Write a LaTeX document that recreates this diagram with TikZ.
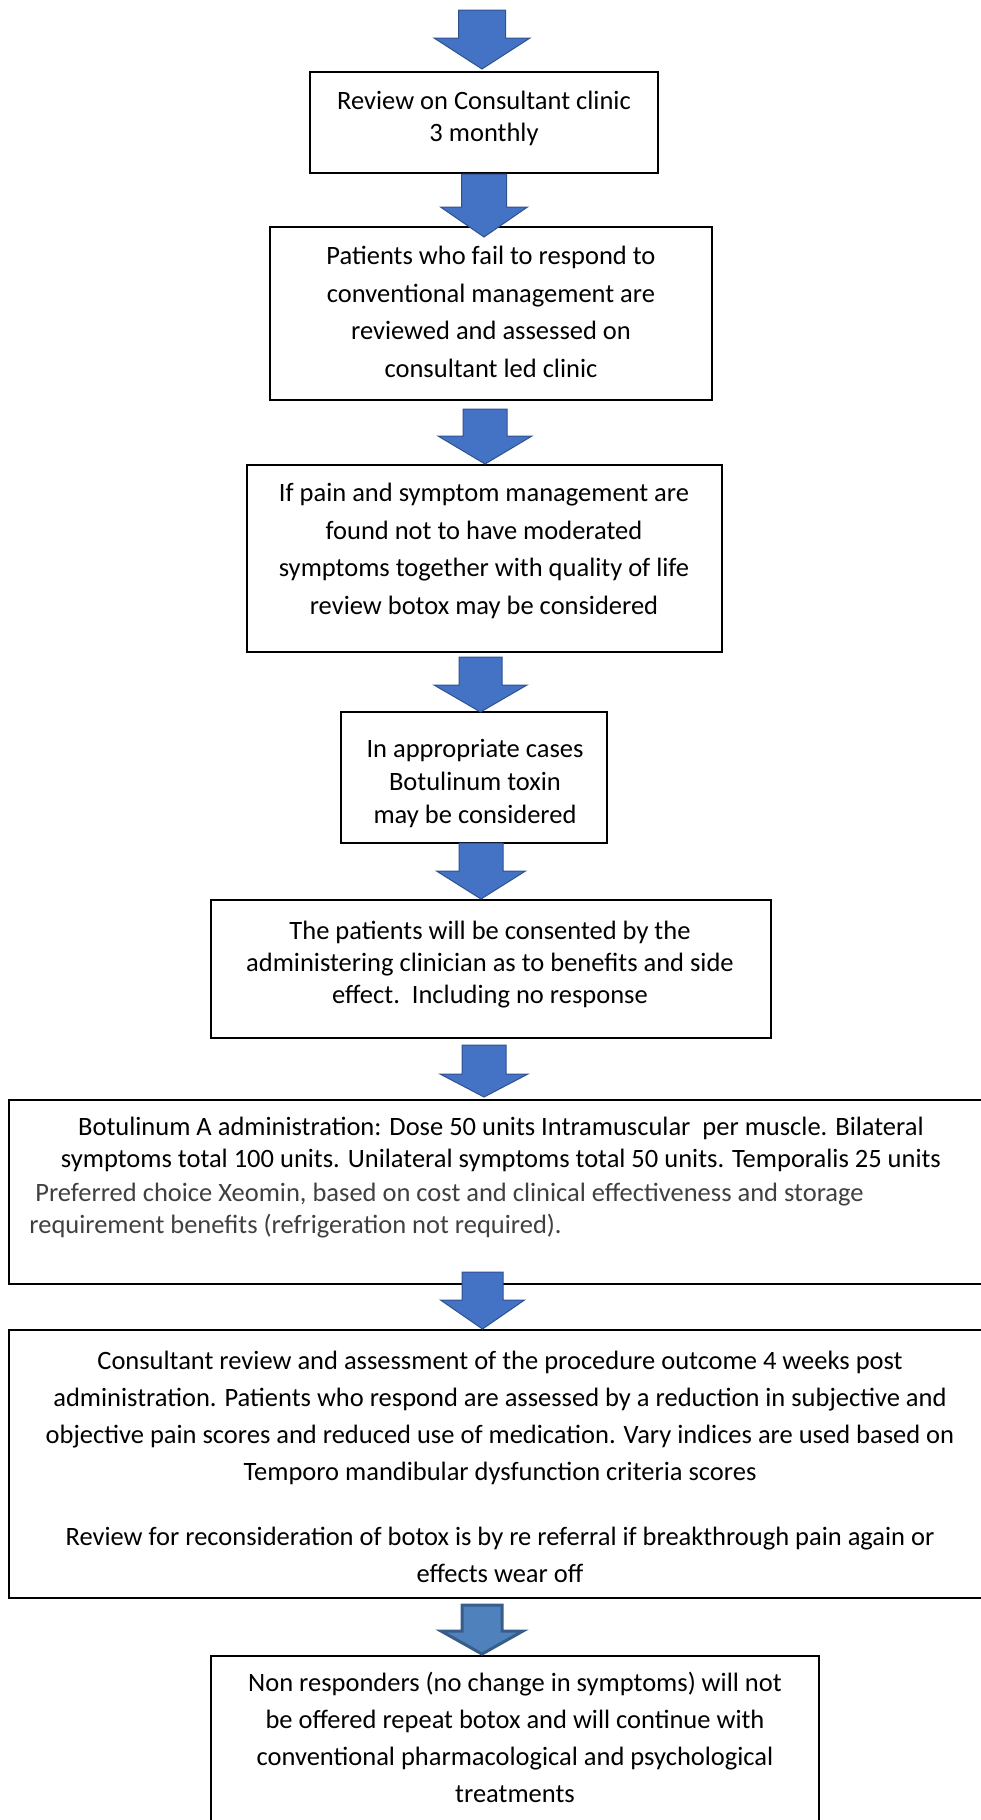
\documentclass[tikz,border=0pt]{standalone}
\usepackage{fontspec}
\setmainfont{Carlito}
\definecolor{arrowfill}{HTML}{4472C4}
\definecolor{arrowline}{HTML}{2F528F}
\definecolor{lastfill}{HTML}{4F81BD}
\definecolor{lastline}{HTML}{385D8A}

% block arrow: [style] x, shaft top, head top, tip, half shaft, half head
\newcommand{\blockarrow}[7][flowarrow]{%
  \draw[#1] (#2-#6,#3) -- (#2+#6,#3) -- (#2+#6,#4) -- (#2+#7,#4) -- (#2,#5)
    -- (#2-#7,#4) -- (#2-#6,#4) -- cycle;}

\begin{document}
\begin{tikzpicture}[x=0.5pt, y=-0.5pt,
  box/.style={draw, line width=1pt, fill=white, inner sep=0pt},
  txt/.style={align=center, inner sep=0pt, anchor=north},
  flowarrow/.style={fill=arrowfill, draw=arrowline, line width=0.5pt},
  lastarrow/.style={fill=lastfill, draw=lastline, line width=1.5pt}]
\def\bodyfont{\fontsize{13.25}{18.75}\selectfont}
\def\tightfont{\fontsize{13.25}{16}\selectfont}
\useasboundingbox (0,0) rectangle (980,1820);

% boxes
\node[box, minimum width=174pt, minimum height=50.5pt] (box1) at (484,122.5) {}; % FIRST BOX
\node[txt, font=\tightfont] (t1) at (484,91) {Review on Consultant clinic\\3 monthly};

\node[box, minimum width=221pt, minimum height=86.5pt] (box2) at (491,313.5) {}; % SECOND BOX
\node[txt, font=\bodyfont] (t2) at (491,246) {Patients who fail to respond to\\conventional management are\\reviewed and assessed on\\consultant led clinic};

\node[box, minimum width=237.5pt, minimum height=93.5pt] (box3) at (484.5,558.5) {}; % THIRD BOX
\node[txt, font=\bodyfont] (t3) at (484,483) {If pain and symptom management are\\found not to have moderated\\symptoms together with quality of life\\review botox may be considered};

\node[box, minimum width=133pt, minimum height=65.5pt] (box4) at (474,777.5) {}; % FOURTH BOX
\node[txt, font=\fontsize{13.25}{16.5}\selectfont] (t4) at (475,739) {In appropriate cases\\Botulinum toxin\\may be considered};

\node[box, minimum width=280pt, minimum height=69pt] (box5) at (491,969) {}; % FIFTH BOX
\node[txt, font=\tightfont] (t5) at (490,921) {The patients will be consented by the\\administering clinician as to benefits and side\\effect.\ \ Including no response};

\node[box, minimum width=495.5pt, minimum height=92pt] (box6) at (504.5,1192) {}; % SIXTH BOX
\node[txt, font=\tightfont] (t6) at (501,1117) {Botulinum A administration: Dose 50 units Intramuscular\ \ per muscle. Bilateral\\symptoms total 100 units. Unilateral symptoms total 50 units. Temporalis 25 units};
\node[txt, anchor=north west, align=left, text=black!75, font=\tightfont] (t6b) at (29,1183) {\ Preferred choice Xeomin, based on cost and clinical effectiveness and storage\\requirement benefits (refrigeration not required).};

\node[box, minimum width=495.5pt, minimum height=134pt] (box7) at (504.5,1464) {}; % SEVENTH BOX
\node[txt, font=\fontsize{13.25}{18.5}\selectfont] (t7) at (500,1351) {Consultant review and assessment of the procedure outcome 4 weeks post\\administration. Patients who respond are assessed by a reduction in subjective and\\objective pain scores and reduced use of medication. Vary indices are used based on\\Temporo mandibular dysfunction criteria scores\\[14pt]Review for reconsideration of botox is by re referral if breakthrough pain again or\\effects wear off};

\node[box, minimum width=304pt, minimum height=92pt] (box8) at (515,1748) {}; % LAST BOX
\node[txt, font=\fontsize{13.25}{18.5}\selectfont] (t8) at (515,1672) {Non responders (no change in symptoms) will not\\be offered repeat botox and will continue with\\conventional pharmacological and psychological\\treatments};

% arrows
\blockarrow{482}{10}{38}{69}{23.5}{48}
\blockarrow{484}{174}{207}{237}{22.5}{43.5}
\blockarrow{485}{409}{436}{464}{22}{47}
\blockarrow{480.5}{657}{685}{712}{21.5}{46.5}
\blockarrow{481}{843}{871}{899}{22}{44.5}
\blockarrow{484}{1045}{1074}{1097}{22}{44}
\blockarrow{482.5}{1272}{1300}{1329}{20.5}{42}
\blockarrow[lastarrow]{482}{1605}{1631}{1654}{20}{41}
\end{tikzpicture}
\end{document}
